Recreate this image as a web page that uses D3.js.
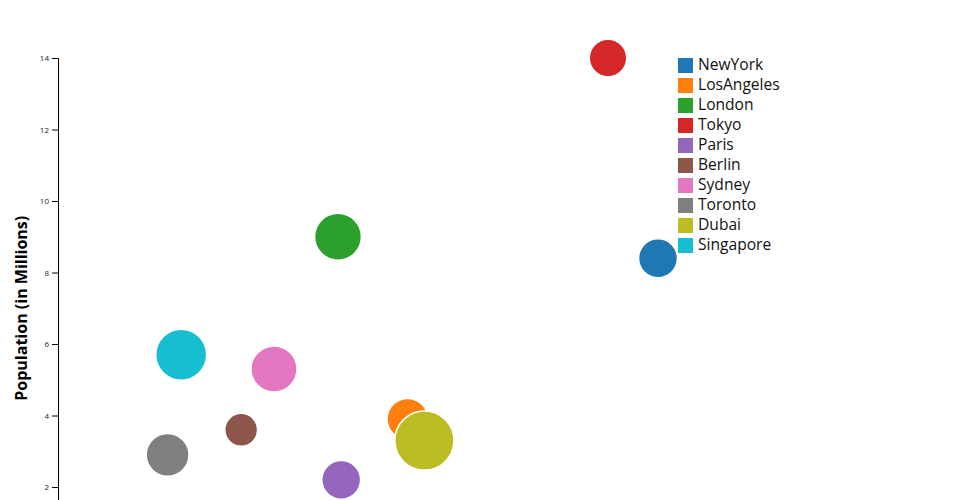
<!DOCTYPE html>
<html>
<head>
<meta charset="utf-8">
<script src="https://cdn.jsdelivr.net/npm/d3@7"></script>
<style>
  body { margin: 0; background: #fff; overflow: hidden; }
  svg { display: block; font-family: "Open Sans", sans-serif; }
</style>
</head>
<body>
<div id="chart"></div>
<script>
const cities = ["NewYork", "LosAngeles", "London", "Tokyo", "Paris", "Berlin", "Sydney", "Toronto", "Dubai", "Singapore"];
const population = [8.4, 3.9, 9.0, 14.0, 2.2, 3.6, 5.3, 2.9, 3.3, 5.7];
const xValues = [75.0, 43.7, 35.0, 68.75, 35.4, 22.9, 27.0, 13.7, 45.8, 15.4];
const sizeValues = [42, 47, 61, 39, 42, 30, 59, 51, 97, 72];
const yTicks = [2, 4, 6, 8, 10, 12, 14];

const margin = { top: 58, right: 102, bottom: 50, left: 58 };
const width = 960 - margin.left - margin.right;
const height = 500.5;

const data = cities.map((c, i) => ({ city: c, pop: population[i], x: xValues[i], size: sizeValues[i] }));

const svg = d3.select("#chart").append("svg")
  .attr("width", 960)
  .attr("height", 500);

const g = svg.append("g").attr("transform", `translate(${margin.left},${margin.top})`);

const x = d3.scaleLinear().domain([0, 100]).range([0, width]);
const y = d3.scaleLinear().domain([0, 14]).range([height, 0]);
const r = d3.scaleSqrt().domain([0, 100]).range([0, 30]);
const color = d3.scaleOrdinal().domain(cities).range(d3.schemeCategory10);

const yAxis = g.append("g").call(d3.axisLeft(y).tickValues(yTicks).tickFormat(d3.format("d")));
yAxis.selectAll("text").style("font-size", "8px").style("font-family", "'Open Sans', sans-serif").attr("fill", "#222");

svg.append("text")
  .attr("transform", "rotate(-90)")
  .attr("x", -(margin.top + height / 2))
  .attr("y", 27)
  .attr("text-anchor", "middle")
  .style("font-size", "16px")
  .style("font-weight", "bold")
  .text("Population (in Millions)");

g.selectAll("circle.city").data(data).enter().append("circle")
  .attr("class", "city")
  .attr("cx", d => x(d.x))
  .attr("cy", d => y(d.pop))
  .attr("r", d => r(d.size))
  .attr("fill", d => color(d.city))
  .attr("stroke", "#fff")
  .attr("stroke-width", 1.5);

const legend = svg.append("g").attr("transform", "translate(678,58)");
const items = legend.selectAll("g").data(cities).enter().append("g")
  .attr("transform", (d, i) => `translate(0,${i * 20})`);
items.append("rect").attr("width", 15).attr("height", 15).attr("fill", d => color(d));
items.append("text").attr("x", 20).attr("y", 11.5)
  .style("font-size", "15.6px").attr("fill", "#111").text(d => d);
</script>
</body>
</html>
